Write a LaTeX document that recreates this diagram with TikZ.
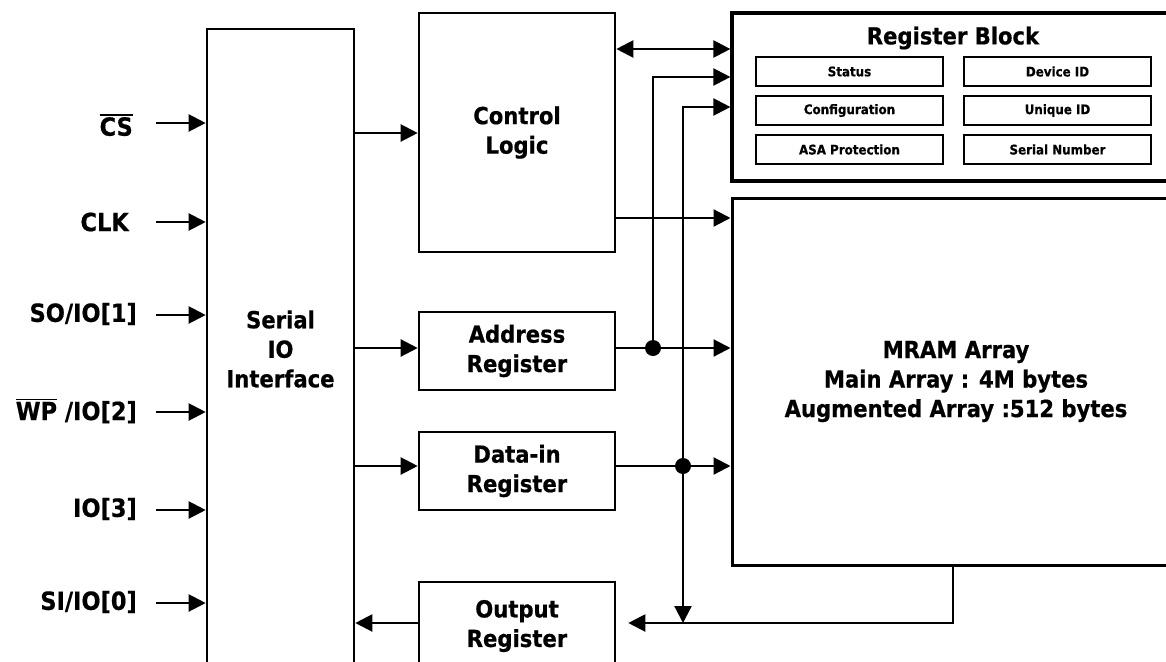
\documentclass[tikz,border=0pt]{standalone}
\usepackage{fontspec}
\setmainfont{DejaVu Sans Condensed}[BoldFeatures={FakeBold=0.6}]
\usetikzlibrary{arrows.meta}
\newcommand\barred[1]{\vbox{\hrule height 1.6pt\kern 1.6pt\hbox{#1}}}
\begin{document}
\begin{tikzpicture}[x=1pt,y=-1pt,
  big/.style={font=\bfseries\fontsize{23.5}{29.5}\selectfont},
  small/.style={font=\bfseries\fontsize{13.2}{16}\selectfont},
  blk/.style={draw,line width=2.6pt,inner sep=0pt,align=center,big},
  cell/.style={draw,line width=1.6pt,inner sep=0pt,minimum width=187pt,minimum height=29pt,small},
  tip/.tip={Triangle[length=17pt,width=17pt]},
  arr/.style={line width=2.2pt,-tip},
  darr/.style={line width=2.2pt,tip-tip},
  pin/.style={font=\bfseries\fontsize{25}{30}\selectfont,anchor=east,inner sep=0pt}]
\useasboundingbox (0,0) rectangle (1166,661);
\fill[white] (0,0) rectangle (1166,661);
\clip (0,0) rectangle (1166,661);

% blocks
\node[blk,minimum width=147pt,minimum height=640pt] (sio) at (280.5,349) {Serial\\IO\\Interface};
\node[blk,minimum width=196pt,minimum height=239pt] (ctl) at (517,132.5) {Control\\Logic};
\node[blk,minimum width=196pt,minimum height=78pt] (adr) at (517,351) {Address\\Register};
\node[blk,minimum width=196pt,minimum height=78pt] (din) at (517,471) {Data-in\\Register};
\node[blk,minimum width=196pt,minimum height=88pt] (outr) at (517,626) {Output\\Register};
\node[draw,line width=3.2pt,minimum width=448pt,minimum height=168pt,inner sep=0pt] (rb) at (956,97) {};
\node[big] (rbt) at (953,38) {Register Block};
\node[cell] (c1) at (849.5,71.5) {Status};
\node[cell] (c2) at (1057.5,71.5) {Device ID};
\node[cell] (c3) at (849.5,110.5) {Configuration};
\node[cell] (c4) at (1057.5,110.5) {Unique ID};
\node[cell] (c5) at (849.5,149.5) {ASA Protection};
\node[cell] (c6) at (1057.5,149.5) {Serial Number};
\node[blk,line width=3pt,minimum width=448pt,minimum height=367pt] (mram) at (956,381.5)
  {MRAM Array\\Main Array : 4M bytes\\Augmented Array :512 bytes};

% input pins
\node[pin] (lcs) at (133,125) {\barred{CS}};
\node[pin] (lclk) at (129,222) {CLK};
\node[pin] (lso) at (137,314) {SO/IO[1]};
\node[pin] (lwp) at (137,411) {\barred{WP} /IO[2]};
\node[pin] (lio3) at (137,509) {IO[3]};
\node[pin] (lsi) at (137,602) {SI/IO[0]};
\coordinate (pcs) at (156,123);
\coordinate (pclk) at (156,222);
\coordinate (pso) at (156,315);
\coordinate (pwp) at (156,412);
\coordinate (pio3) at (156,510);
\coordinate (psi) at (156,603);
\foreach \p in {pcs,pclk,pso,pwp,pio3,psi}
  \draw[arr] (\p) -- (\p -| sio.west);

% serial IO to registers
\draw[arr] (sio.east |- 0,133) -- (ctl.west |- 0,133);
\draw[arr] (sio.east |- 0,348) -- (adr.west |- 0,348);
\draw[arr] (sio.east |- 0,466) -- (din.west |- 0,466);
\draw[arr] (outr.west |- 0,623) -- (sio.east |- 0,623);

% control logic
\draw[darr] (ctl.east |- 0,49) -- (rb.west |- 0,49);
\draw[arr] (ctl.east |- 0,218) -- (mram.west |- 0,218);

% address / data buses
\coordinate (j1) at (653,348);
\coordinate (j2) at (683,466);
\coordinate (oc) at (953,623);
\draw[arr] (adr.east |- j1) -- (mram.west |- j1);
\draw[arr] (j1) |- (rb.west |- 0,77);
\draw[arr] (din.east |- j2) -- (mram.west |- j2);
\draw[arr] (j2) |- (rb.west |- 0,107);
\draw[arr] (j2) -- (j2 |- oc);
\fill (j1) circle[radius=8pt];
\fill (j2) circle[radius=8pt];

% MRAM to output register
\draw[arr,shorten >=12pt] (mram.south -| oc) |- (outr.east |- oc);
\end{tikzpicture}
\end{document}
